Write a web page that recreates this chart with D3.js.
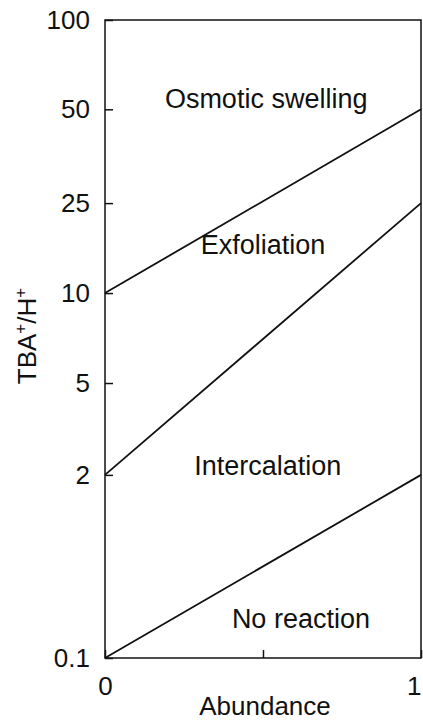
<!DOCTYPE html>
<html>
<head>
<meta charset="utf-8">
<script src="https://cdn.jsdelivr.net/npm/d3@7"></script>
<style>
  html, body { margin: 0; padding: 0; background: #fff; }
  text { font-family: "Liberation Sans", Arial, sans-serif; fill: #111; }
</style>
</head>
<body>
<div id="chart"></div>
<script>
// boundary lines: TBA+/H+ ratio at abundance 0 and at abundance 1
var lineNames = ["upper", "middle", "lower"];
var startValues = [10, 2, 0.1];
var endValues = [50, 25, 2];

// y axis ticks (the axis is not a plain log scale)
var yTicks = [0.1, 2, 5, 10, 25, 50, 100];
// x axis ticks, only the ends get a label
var xTicks = [0, 0.5, 1];
var xTickLabels = ["0", "", "1"];

// region names and where they sit (in data units)
var regionNames = ["Osmotic swelling", "Exfoliation", "Intercalation", "No reaction"];
var regionX = [0.51, 0.5, 0.515, 0.62];
var regionY = [51, 16.5, 2, 0.41];

// set the dimensions and margins
var margin = {top: 20, right: 2, bottom: 63, left: 105},
    width = 423 - margin.left - margin.right,
    height = 721 - margin.top - margin.bottom;

var svg = d3.select("#chart")
  .append("svg")
  .attr("width", width + margin.left + margin.right)
  .attr("height", height + margin.top + margin.bottom)
  .append("g")
  .attr("transform", "translate(" + margin.left + "," + margin.top + ")");

var x = d3.scaleLinear().domain([0, 1]).range([0, width]);

// piecewise scale, share of the height that each tick sits at
var tickShare = [0, 0.287, 0.431, 0.572, 0.713, 0.860, 1];
var y = d3.scaleLinear()
  .domain(yTicks)
  .range(tickShare.map(function(s) { return height * (1 - s); }));

// frame
svg.append("rect")
  .attr("width", width)
  .attr("height", height)
  .attr("fill", "none")
  .attr("stroke", "#111")
  .attr("stroke-width", 1.5);

// y axis, ticks pointing inwards
var yAxis = svg.append("g")
  .call(d3.axisLeft(y)
    .tickValues(yTicks)
    .tickSize(-8)
    .tickPadding(15)
    .tickFormat(function(d) { return String(d); }));
yAxis.select(".domain").remove();

// x axis
var xAxis = svg.append("g")
  .attr("transform", "translate(0," + height + ")")
  .call(d3.axisBottom(x)
    .tickValues(xTicks)
    .tickSize(-8)
    .tickPadding(19)
    .tickFormat(function(d, i) { return xTickLabels[i]; }));
xAxis.select(".domain").remove();

svg.selectAll(".tick line").attr("stroke", "#111").attr("stroke-width", 1.5);
svg.selectAll(".tick text")
  .style("font-size", "26px")
  .style("font-family", "'Liberation Sans', Arial, sans-serif")
  .attr("fill", "#111");

// the "1" sits on the right edge, keep it inside the page
xAxis.selectAll(".tick text")
  .filter(function(d) { return d === 1; })
  .attr("text-anchor", "end")
  .attr("dx", 0);

// boundary lines
var rows = lineNames.map(function(n, i) { return [startValues[i], endValues[i]]; });
var line = d3.line()
  .x(function(d, i) { return x(i); })
  .y(function(d) { return y(d); });

svg.selectAll(".bound")
  .data(rows)
  .enter()
  .append("path")
    .attr("class", "bound")
    .attr("d", line)
    .attr("fill", "none")
    .attr("stroke", "#111")
    .attr("stroke-width", 1.8);

// region labels
svg.selectAll(".region")
  .data(regionNames)
  .enter()
  .append("text")
    .attr("class", "region")
    .attr("x", function(d, i) { return x(regionX[i]); })
    .attr("y", function(d, i) { return y(regionY[i]); })
    .attr("text-anchor", "middle")
    .style("font-size", "27px")
    .text(function(d) { return d; });

// x title
svg.append("text")
  .attr("x", width / 2 + 2)
  .attr("y", height + 57)
  .attr("text-anchor", "middle")
  .style("font-size", "26px")
  .text("Abundance");

// y title with superscripts
var yt = svg.append("text")
  .attr("transform", "translate(-69," + (height / 2 - 3) + ") rotate(-90)")
  .attr("text-anchor", "middle")
  .style("font-size", "26px");
yt.append("tspan").text("TBA");
yt.append("tspan").attr("dy", -10).style("font-size", "17px").text("+");
yt.append("tspan").attr("dy", 10).text("/H");
yt.append("tspan").attr("dy", -10).style("font-size", "17px").text("+");
</script>
</body>
</html>
